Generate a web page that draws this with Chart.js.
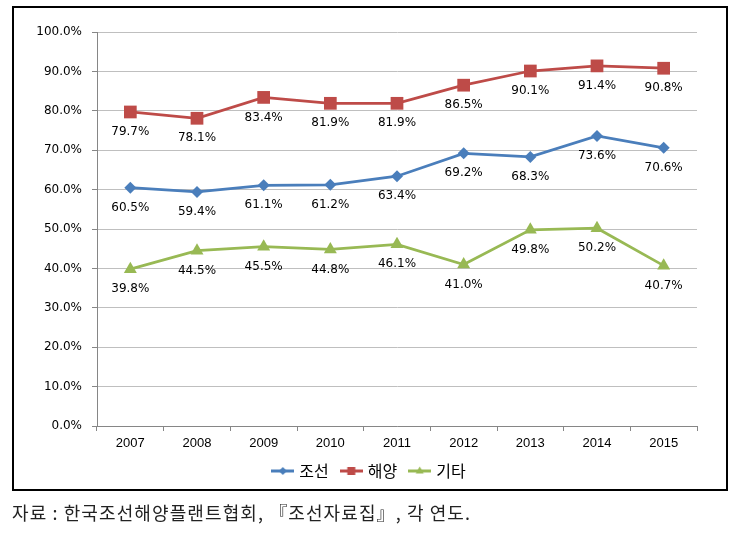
<!DOCTYPE html>
<html><head><meta charset="utf-8">
<script src="https://cdn.jsdelivr.net/npm/chart.js@4"></script>
<style>
html,body{margin:0;padding:0;background:#fff;}
body{width:738px;height:534px;position:relative;overflow:hidden;}
#wrap{position:absolute;left:0;top:0;width:738px;height:500px;}
#frame{position:absolute;left:12px;top:6px;width:712px;height:481px;border:2px solid #000;pointer-events:none;}
#src{position:absolute;left:12px;top:499px;font-family:"Noto Sans CJK KR";font-size:18px;letter-spacing:1.1px;line-height:26px;color:#222;white-space:nowrap;}
</style></head>
<body>
<div id="wrap"><canvas id="c" width="738" height="500"></canvas></div>
<div id="frame"></div>
<div id="src">자료 : 한국조선해양플랜트협회, 『조선자료집』, 각 연도.</div>
<script>
const years = ['2007','2008','2009','2010','2011','2012','2013','2014','2015'];
const seriesNames = ['조선','해양','기타'];
const shipbuilding = [60.5, 59.4, 61.1, 61.2, 63.4, 69.2, 68.3, 73.6, 70.6];
const offshore = [79.7, 78.1, 83.4, 81.9, 81.9, 86.5, 90.1, 91.4, 90.8];
const others = [39.8, 44.5, 45.5, 44.8, 46.1, 41.0, 49.8, 50.2, 40.7];

const colors = ['#4A7EBB', '#BE4B48', '#98B954'];
const styles = ['rectRot', 'rect', 'triangle'];
const radii = [6, 9, 7.5];

function makeIcon(color, style) {
  const c = document.createElement('canvas');
  c.width = 23; c.height = 12;
  const g = c.getContext('2d');
  g.strokeStyle = color; g.lineWidth = 3;
  g.beginPath(); g.moveTo(0, 6); g.lineTo(23, 6); g.stroke();
  g.fillStyle = color;
  g.beginPath();
  if (style === 'rectRot') { g.moveTo(11.5, 2); g.lineTo(15.5, 6); g.lineTo(11.5, 10); g.lineTo(7.5, 6); }
  else if (style === 'rect') { g.rect(7.5, 2, 8, 8); }
  else { g.moveTo(11.5, 1.5); g.lineTo(15.5, 8.5); g.lineTo(7.5, 8.5); }
  g.closePath(); g.fill();
  return c;
}
const icons = colors.map((c, i) => makeIcon(c, styles[i]));

const labelPlugin = {
  id: 'valueLabels',
  afterDatasetsDraw(chart) {
    const ctx = chart.ctx;
    ctx.save();
    ctx.font = '12px "DejaVu Sans"';
    ctx.fillStyle = '#000';
    ctx.textAlign = 'center';
    ctx.textBaseline = 'middle';
    chart.data.datasets.forEach((ds, i) => {
      chart.getDatasetMeta(i).data.forEach((pt, j) => {
        ctx.fillText(ds.data[j].toFixed(1) + '%', pt.x, pt.y + 20);
      });
    });
    ctx.restore();
  }
};

// centre the legend on the frame (x = 370) rather than on the padded canvas
const legendShift = {
  id: 'legendShift',
  afterLayout(chart) {
    const lg = chart.legend;
    if (!lg) return;
    const d = 370 - (lg.left + lg.right) / 2;
    lg.left += d; lg.right += d;
  }
};

const seriesData = [shipbuilding, offshore, others];
new Chart(document.getElementById('c'), {
  type: 'line',
  data: {
    labels: years,
    datasets: seriesData.map((d, i) => ({
      label: seriesNames[i],
      data: d,
      borderColor: colors[i],
      backgroundColor: colors[i],
      borderWidth: 2.75,
      pointStyle: styles[i],
      pointRadius: radii[i],
      pointBorderWidth: 0,
      pointBackgroundColor: colors[i],
      tension: 0
    }))
  },
  options: {
    responsive: false,
    animation: false,
    layout: { padding: { left: 30, right: 41, top: 32, bottom: 11 } },
    scales: {
      x: {
        offset: true,
        grid: { offset: true, drawOnChartArea: false, drawTicks: true, tickLength: 5, tickColor: '#868686' },
        border: { color: '#868686', width: 1 },
        ticks: { font: { family: 'Liberation Sans', size: 13 }, color: '#000', padding: 5, maxRotation: 0 },
        afterFit(s) { s.height = 23; }
      },
      y: {
        min: 0, max: 100,
        grid: { color: '#BFBFBF', tickLength: 5, tickColor: '#868686' },
        border: { color: '#868686', width: 1 },
        ticks: { stepSize: 10, font: { family: 'DejaVu Sans', size: 12 }, color: '#000', padding: 10,
          callback: v => v.toFixed(1) + '%' },
        afterFit(s) { s.width = 67; }
      }
    },
    plugins: {
      legend: {
        position: 'bottom',
        labels: {
          usePointStyle: true,
          pointStyleWidth: 17,
          padding: 14,
          color: '#000',
          font: { family: 'Noto Sans CJK KR', size: 16 },
          generateLabels: chart => chart.data.datasets.map((ds, i) => ({
            text: ds.label, pointStyle: icons[i], fillStyle: colors[i], strokeStyle: colors[i],
            lineWidth: 0, hidden: false, datasetIndex: i, fontColor: '#000'
          }))
        }
      },
      tooltip: { enabled: false }
    }
  },
  plugins: [labelPlugin, legendShift]
});
</script>
</body></html>
